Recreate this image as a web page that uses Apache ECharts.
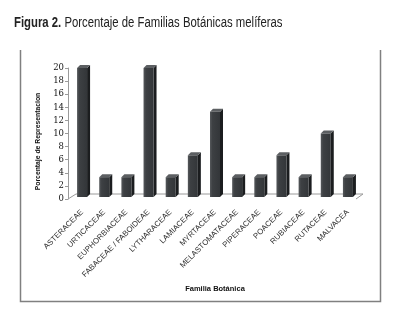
<!DOCTYPE html>
<html>
<head>
<meta charset="utf-8">
<script src="https://cdn.jsdelivr.net/npm/echarts@6/dist/echarts.min.js"></script>
<style>
  html, body { margin: 0; padding: 0; background: #fff; }
  #chart { width: 409px; height: 318px; }
</style>
</head>
<body>
<div id="chart"></div>
<script>
const familias = [
  "ASTERACEAE", "URTICACEAE", "EUPHORBIACEAE", "FABACEAE / FABOIDEAE",
  "LYTHARACEAE", "LAMIACEAE", "MYRTACEAE", "MELASTOMATACEAE",
  "PIPERACEAE", "POACEAE", "RUBIACEAE", "RUTACEAE", "MALVACEA"
];
const porcentajes = [20, 3.33, 3.33, 20, 3.33, 6.67, 13.33, 3.33, 3.33, 6.67, 3.33, 10, 3.33];
const yTicks = [0, 2, 4, 6, 8, 10, 12, 14, 16, 18, 20];

const chart = echarts.init(document.getElementById("chart"));

// depth of the fake 3D look
const DX = 3, DY = -3, BAR_W = 10;

function renderBar(params, api) {
  const top = api.coord([api.value(0), api.value(1)]);
  const base = api.coord([api.value(0), 0]);
  const l = top[0] - BAR_W / 2, r = top[0] + BAR_W / 2;
  const yt = top[1], yb = base[1] - 2;
  return {
    type: "group",
    children: [
      {
        type: "polygon",
        shape: { points: [[r, yt], [r + DX, yt + DY], [r + DX, yb + DY], [r, yb]] },
        style: { fill: "#1b1d1f" }
      },
      {
        type: "polygon",
        shape: { points: [[l, yt], [l + DX, yt + DY], [r + DX, yt + DY], [r, yt]] },
        style: { fill: "#5c5f62" }
      },
      {
        type: "rect",
        shape: { x: l, y: yt, width: BAR_W, height: yb - yt },
        style: {
          fill: new echarts.graphic.LinearGradient(0, 0, 1, 0, [
            { offset: 0, color: "#55585b" },
            { offset: 0.25, color: "#3d4043" },
            { offset: 1, color: "#333639" }
          ])
        }
      }
    ]
  };
}

function renderFloor(params, api) {
  const cs = params.coordSys;
  const x0 = cs.x, x1 = cs.x + cs.width, y0 = cs.y + cs.height;
  return {
    type: "polyline",
    shape: { points: [[x1 - 3, y0], [x1 + 4, y0 - 5], [x0 + 5, y0 - 5], [x0 - 3, y0]] },
    style: { stroke: "#9a9a9a", lineWidth: 1, fill: null }
  };
}

const option = {
  animation: false,
  backgroundColor: "#fff",
  graphic: [
    {
      // condensed look for the caption
      type: "text",
      x: 14,
      y: 16,
      scaleX: 0.81,
      style: {
        text: "{b|Figura 2.} Porcentaje de Familias Botánicas melíferas",
        fontFamily: "Liberation Sans",
        fontSize: 14,
        fill: "#222",
        rich: {
          b: { fontFamily: "Liberation Sans", fontSize: 14, fontWeight: "bold", fill: "#222" }
        }
      }
    },
    {
      type: "polyline",
      shape: { points: [[20.5, 50], [20.5, 301.5], [380.5, 301.5], [380.5, 50]] },
      style: { stroke: "#808080", lineWidth: 1.5, fill: null }
    }
  ],
  grid: { left: 71, right: 50, top: 68, bottom: 119 },
  xAxis: {
    type: "category",
    data: familias,
    name: "Familia Botánica",
    nameLocation: "middle",
    nameGap: 86,
    nameTextStyle: { fontFamily: "Liberation Sans", fontSize: 7.5, fontWeight: "bold", color: "#111" },
    axisLine: { show: false },
    axisTick: { show: false },
    axisLabel: {
      interval: 0,
      rotate: 45,
      margin: 12,
      fontFamily: "Liberation Sans",
      fontSize: 7.8,
      color: "#333"
    }
  },
  yAxis: {
    type: "value",
    min: yTicks[0],
    max: yTicks[yTicks.length - 1],
    interval: 2,
    offset: 3,
    name: "Porcentaje de Representacion",
    nameLocation: "middle",
    nameGap: 26,
    nameTextStyle: {
      fontFamily: "Liberation Sans", fontSize: 6.8, fontWeight: "bold", color: "#111",
      padding: [0, 16, 0, 0]
    },
    axisLine: { show: true, lineStyle: { color: "#9a9a9a", width: 1 } },
    axisTick: { show: true, length: 3, lineStyle: { color: "#9a9a9a" } },
    axisLabel: {
      margin: 4,
      fontFamily: "DejaVu Serif",
      fontSize: 8.5,
      color: "#111"
    },
    splitLine: { show: false }
  },
  series: [
    {
      type: "custom",
      renderItem: renderFloor,
      data: [[0, 0]],
      encode: { x: 0, y: 1 },
      silent: true,
      z: 1
    },
    {
      type: "custom",
      renderItem: renderBar,
      data: porcentajes.map((v, i) => [i, v]),
      encode: { x: 0, y: 1 },
      z: 2
    }
  ]
};

chart.setOption(option);
</script>
</body>
</html>
